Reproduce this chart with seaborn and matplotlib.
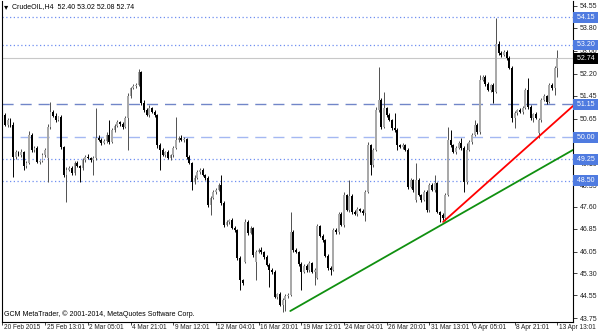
import numpy as np
import pandas as pd
import matplotlib
matplotlib.use("Agg")
import matplotlib.pyplot as plt
import matplotlib.transforms as mtransforms
import seaborn as sns

sns.set_style("white")
plt.rcParams['font.family'] = ['Liberation Sans', 'DejaVu Sans']

# ---------------- data (CrudeOIL H4) ----------------
opens = [
    51.20, 50.78, 50.44, 50.61, 50.44, 49.33, 49.50, 49.40, 49.50, 49.02,
    49.12, 50.09, 49.57, 49.64, 49.15, 49.19, 49.40, 49.29, 50.37, 50.88,
    50.75, 50.61, 50.71, 49.67, 48.71, 48.88, 48.95, 48.78, 49.12, 49.02,
    48.95, 49.22, 49.33, 49.29, 49.22, 49.29, 49.99, 49.92, 49.81, 49.88,
    50.09, 49.85, 50.26, 50.40, 50.54, 50.47, 50.37, 50.68, 51.44, 51.71,
    51.78, 51.82, 52.27, 51.20, 50.95, 50.78, 51.02, 50.88, 50.78, 49.74,
    49.57, 49.40, 49.50, 49.29, 49.40, 49.64, 49.92, 49.99, 49.92, 49.95,
    49.33, 49.12, 48.46, 48.60, 48.81, 48.88, 48.71, 48.60, 47.67, 47.91,
    48.12, 48.19, 48.36, 47.74, 46.98, 47.08, 47.15, 46.87, 46.80, 45.84,
    45.08, 45.70, 47.08, 46.70, 46.87, 45.70, 46.04, 46.11, 46.04, 45.87,
    45.60, 45.42, 45.35, 44.49, 44.59, 44.21, 44.39, 44.52, 44.56, 46.74,
    46.11, 46.04, 45.63, 45.35, 45.56, 45.42, 45.66, 45.35, 45.15, 46.94,
    46.60, 46.46, 45.91, 45.49, 45.42, 46.80, 46.74, 47.36, 46.98, 48.01,
    47.50, 47.98, 47.43, 47.36, 47.53, 47.46, 47.39, 48.12, 49.74, 49.05,
    49.57, 50.95, 51.30, 50.37, 51.02, 50.78, 50.61, 50.33, 50.26, 49.74,
    49.67, 49.74, 49.57, 48.29, 48.53, 47.84, 48.53, 48.01, 47.84, 48.12,
    47.50, 48.36, 48.19, 48.42, 47.43, 47.32, 47.22, 48.01, 49.92, 49.74,
    49.50, 49.64, 49.81, 49.64, 48.46, 49.57, 49.85, 50.09, 50.44, 50.19,
    51.99, 52.10, 51.85, 51.65, 51.82, 51.58, 53.24, 52.92, 52.86, 52.96,
    52.75, 52.41, 50.68, 50.85, 50.95, 50.88, 51.02, 51.65, 51.06, 50.68,
    50.82, 50.16, 50.61, 51.30, 51.44, 51.23, 51.82, 51.71, 52.40,
]
closes = [
    50.78, 50.44, 50.61, 50.44, 49.33, 49.50, 49.40, 49.50, 49.02, 49.12,
    50.09, 49.57, 49.64, 49.15, 49.19, 49.40, 49.57, 50.37, 50.88, 50.75,
    50.61, 50.71, 49.67, 48.71, 48.88, 48.95, 48.78, 49.12, 49.02, 48.95,
    49.22, 49.33, 49.29, 49.22, 49.29, 49.99, 49.92, 49.81, 49.88, 50.09,
    49.85, 50.26, 50.40, 50.54, 50.47, 50.37, 50.68, 51.44, 51.71, 51.78,
    51.82, 52.27, 51.20, 50.95, 50.78, 51.02, 50.88, 50.78, 49.74, 49.57,
    49.40, 49.50, 49.29, 49.40, 49.64, 49.92, 49.99, 49.92, 49.95, 49.33,
    49.12, 48.46, 48.60, 48.81, 48.88, 48.71, 48.60, 47.67, 47.91, 48.12,
    48.19, 48.36, 47.74, 46.98, 47.08, 47.15, 46.87, 46.80, 45.84, 45.08,
    44.97, 47.08, 46.70, 46.87, 45.94, 46.04, 46.11, 46.04, 45.87, 45.60,
    45.42, 45.35, 44.49, 44.59, 44.21, 44.39, 44.52, 44.56, 46.74, 46.11,
    46.04, 45.63, 45.35, 45.56, 45.42, 45.66, 45.35, 45.42, 46.94, 46.60,
    46.46, 45.91, 45.49, 45.42, 46.80, 46.74, 47.36, 46.98, 48.01, 47.50,
    47.98, 47.43, 47.36, 47.53, 47.46, 47.39, 48.12, 49.74, 49.05, 49.57,
    50.95, 51.30, 50.37, 51.02, 50.78, 50.61, 50.33, 50.26, 49.74, 49.67,
    49.74, 49.57, 48.29, 48.53, 48.19, 48.53, 48.01, 47.84, 48.12, 47.50,
    48.36, 48.19, 48.42, 47.43, 47.32, 47.22, 48.01, 49.92, 49.74, 49.50,
    49.64, 49.81, 49.64, 48.46, 49.57, 49.85, 50.09, 50.44, 50.19, 51.99,
    52.10, 51.85, 51.65, 51.82, 51.58, 53.24, 52.92, 52.86, 52.96, 52.75,
    52.41, 50.68, 50.85, 50.95, 50.88, 51.02, 51.65, 51.06, 50.68, 50.82,
    50.68, 50.61, 51.30, 51.44, 51.23, 51.82, 51.71, 52.41, 52.74,
]
upper_wick = [
    0.13, 0.06, 0.08, 0.05, 0.10, 0.07, 0.04, 0.09, 0.05, 0.06,
    0.15, 0.05, 0.08, 0.06, 0.04, 0.07, 0.05, 0.10, 0.35, 0.06,
    0.08, 0.05, 0.07, 0.04, 0.09, 0.06, 0.05, 0.08, 0.06, 0.04,
    0.07, 0.05, 0.09, 0.04, 0.06, 1.03, 0.08, 0.05, 0.07, 0.10,
    0.52, 0.06, 0.05, 0.08, 0.04, 0.07, 0.06, 0.09, 0.05, 0.07,
    0.06, 0.10, 0.04, 0.08, 0.06, 0.09, 0.05, 0.07, 0.04, 0.06,
    0.08, 0.05, 0.07, 0.04, 0.06, 0.79, 0.05, 0.08, 0.06, 0.04,
    0.07, 0.05, 0.09, 0.06, 0.05, 0.08, 0.04, 0.06, 0.07, 0.05,
    0.08, 0.06, 0.35, 0.05, 0.07, 0.04, 0.08, 0.06, 0.05, 0.07,
    0.04, 0.11, 0.06, 0.08, 0.05, 0.07, 0.06, 0.09, 0.04, 0.06,
    0.05, 0.08, 0.06, 0.04, 0.07, 0.05, 0.06, 0.08, 0.69, 0.05,
    0.07, 0.04, 0.06, 0.08, 0.05, 0.07, 0.04, 0.06, 0.08, 0.05,
    0.06, 0.04, 0.07, 0.05, 0.08, 0.06, 0.05, 0.07, 0.10, 0.04,
    0.55, 0.06, 0.05, 0.08, 0.04, 0.06, 0.07, 0.09, 0.05, 0.08,
    0.10, 1.14, 0.06, 0.56, 0.05, 0.07, 0.04, 0.50, 0.06, 0.05,
    0.07, 0.04, 0.06, 0.08, 0.05, 0.59, 0.06, 0.04, 0.07, 0.05,
    0.08, 0.06, 0.29, 0.05, 0.04, 0.06, 0.07, 0.45, 0.34, 0.05,
    0.06, 0.08, 0.18, 0.05, 0.24, 0.07, 0.06, 0.17, 0.05, 0.17,
    0.06, 0.05, 0.08, 0.04, 0.07, 0.90, 0.10, 0.06, 0.05, 0.07,
    0.06, 0.05, 0.07, 0.04, 0.06, 0.08, 0.05, 0.41, 0.06, 0.04,
    0.07, 0.05, 0.08, 0.06, 0.04, 0.07, 0.05, 0.06, 0.28,
]
lower_wick = [
    0.10, 0.05, 0.07, 0.06, 0.69, 0.08, 0.05, 0.07, 0.14, 0.06,
    0.05, 0.08, 0.06, 0.04, 0.07, 0.05, 0.09, 0.83, 0.06, 0.05,
    0.07, 0.04, 0.06, 0.08, 0.94, 0.05, 0.07, 0.06, 0.04, 0.49,
    0.06, 0.08, 0.05, 0.07, 0.51, 0.06, 0.04, 0.08, 0.05, 0.06,
    0.07, 0.05, 0.08, 0.04, 0.06, 0.07, 0.05, 1.11, 0.06, 0.04,
    0.08, 0.05, 0.07, 0.06, 0.04, 0.08, 0.05, 0.06, 0.09, 0.69,
    0.05, 0.07, 0.04, 0.08, 0.06, 0.05, 0.07, 0.04, 0.06, 0.08,
    0.05, 0.27, 0.06, 0.04, 0.07, 0.05, 0.08, 0.06, 0.35, 0.05,
    0.07, 0.04, 0.06, 0.08, 0.05, 0.07, 0.04, 0.06, 0.08, 0.36,
    0.06, 0.05, 0.07, 0.04, 0.08, 0.62, 0.05, 0.07, 0.06, 0.04,
    0.59, 0.06, 0.05, 0.08, 0.04, 0.24, 0.39, 0.07, 0.05, 0.06,
    0.04, 0.07, 0.63, 0.05, 0.06, 0.08, 0.04, 0.45, 0.06, 0.05,
    0.07, 0.04, 0.06, 0.17, 0.05, 0.08, 0.06, 0.04, 0.07, 0.05,
    0.06, 0.08, 0.04, 0.07, 0.05, 0.06, 0.27, 0.05, 0.34, 0.07,
    0.05, 0.06, 0.08, 0.04, 0.07, 0.05, 0.06, 0.08, 0.17, 0.05,
    0.06, 0.04, 0.07, 0.05, 0.08, 0.06, 0.04, 0.07, 0.05, 0.06,
    0.08, 0.05, 0.07, 0.04, 0.24, 0.06, 0.10, 0.05, 0.07, 0.04,
    0.06, 0.05, 0.08, 0.34, 0.06, 0.04, 0.07, 0.05, 0.06, 0.08,
    0.05, 0.07, 0.04, 0.06, 0.38, 0.05, 0.07, 0.06, 0.04, 0.08,
    0.05, 0.14, 0.35, 0.06, 0.04, 0.07, 0.05, 0.08, 0.06, 0.14,
    0.05, 0.17, 0.07, 0.04, 0.06, 0.05, 0.08, 0.24, 0.32,
]

x_tick_bars = [0, 16, 32, 48, 64, 80, 96, 112, 128, 144, 160, 176, 192, 208]
x_tick_labels = ["20 Feb 2015", "25 Feb 13:01", "2 Mar 05:01", "4 Mar 21:01",
                 "9 Mar 12:01", "12 Mar 04:01", "16 Mar 20:01", "19 Mar 12:01",
                 "24 Mar 04:01", "26 Mar 20:01", "31 Mar 13:01", "6 Apr 05:01",
                 "8 Apr 21:01", "13 Apr 13:01"]
y_ticks = [54.55, 53.80, 53.00, 52.20, 51.45, 50.65, 49.90, 49.10, 48.35,
           47.60, 46.85, 46.05, 45.30, 44.55, 43.75]

dotted_levels = [54.15, 53.20, 49.25, 48.50]
dashed_levels = [51.15, 50.00]
current_price = 52.74

red_trend_bars = [165.2, 213.9]
red_trend_prices = [47.08, 51.09]
green_trend_bars = [107.9, 213.9]
green_trend_prices = [44.00, 49.57]

title_text = "CrudeOIL,H4  52.40 53.02 52.08 52.74"
copyright_text = "GCM MetaTrader, \u00a9 2001-2014, MetaQuotes Software Corp."

# ---------------- build frame ----------------
df = pd.DataFrame({"bar": np.arange(len(closes)), "open": opens, "close": closes,
                   "uw": upper_wick, "lw": lower_wick})
df["top"] = df[["open", "close"]].max(axis=1)
df["bot"] = df[["open", "close"]].min(axis=1)
df["high"] = df["top"] + df["uw"]
df["low"] = df["bot"] - df["lw"]
df["bull"] = df["close"] >= df["open"]

W, H = 600, 333
fig = plt.figure(figsize=(W / 100, H / 100), dpi=100)
ax_l, ax_r, ax_t, ax_b = 1.5, 573, 1, 322
ax = fig.add_axes([ax_l / W, 1 - ax_b / H, (ax_r - ax_l) / W, (ax_b - ax_t) / H])

BULL = "#a9a9a9"
BEAR = "#000000"
FS = 5.0
FSX = 4.7

# horizontal levels
for lv in dotted_levels:
    ax.axhline(lv, color="#6f8ff0", lw=0.9, ls=(0, (1, 2)), zorder=1)
ax.axhline(dashed_levels[0], color="#7186c8", lw=1.0, ls=(0, (8, 5)), zorder=1)
ax.axhline(dashed_levels[1], color="#a4b8f2", lw=1.0, ls=(0, (8, 5)), zorder=1)
ax.axhline(current_price, color="#c8c8c8", lw=0.8, zorder=1)

# candles
bull = df[df.bull]
bear = df[~df.bull]
ax.vlines(bull.bar, bull.low, bull.high, color="#505050", lw=0.7, zorder=2)
ax.vlines(bear.bar, bear.low, bear.high, color="#000000", lw=0.7, zorder=2)
min_h = 0.035
ax.bar(bull.bar, np.maximum(bull.top - bull.bot, min_h), bottom=bull.bot,
       width=0.72, color=BULL, linewidth=0, zorder=3)
ax.bar(bear.bar, np.maximum(bear.top - bear.bot, min_h), bottom=bear.bot,
       width=0.72, color=BEAR, linewidth=0, zorder=3)

# trend lines
tr = pd.DataFrame({"bar": red_trend_bars + green_trend_bars,
                   "price": red_trend_prices + green_trend_prices,
                   "line": ["red"] * 2 + ["green"] * 2})
sns.lineplot(data=tr, x="bar", y="price", hue="line",
             palette={"red": "#ff0000", "green": "#109010"},
             lw=1.3, legend=False, ax=ax, zorder=4, estimator=None, sort=False)

# axes limits
ax.set_xlim(-0.37, 213.9)
ax.set_ylim(43.62, 54.72)
ax.set_xlabel("")
ax.set_ylabel("")

# y axis on right
ax.yaxis.tick_right()
ax.set_yticks(y_ticks)
ax.set_yticklabels([f"{v:.2f}" for v in y_ticks])
ax.tick_params(axis="y", which="both", right=True, left=False, length=3, width=0.6,
               labelsize=FS, pad=2, colors="#222222")
ax.set_xticks(x_tick_bars)
ax.set_xticklabels(x_tick_labels)
ax.tick_params(axis="x", which="both", bottom=True, length=2.5, width=0.6,
               labelsize=FSX, pad=0, colors="#222222")
offset = mtransforms.ScaledTranslation(1.5 / 100, 1.5 / 100, fig.dpi_scale_trans)
for lab in ax.get_xticklabels():
    lab.set_horizontalalignment("left")
    lab.set_transform(lab.get_transform() + offset)

for s in ["left", "bottom", "right"]:
    ax.spines[s].set_color("#000000")
    ax.spines[s].set_linewidth(0.8)
ax.spines["top"].set_visible(False)

# price boxes on the right axis
trans = mtransforms.blended_transform_factory(ax.transAxes, ax.transData)
for lv in dotted_levels + dashed_levels:
    ax.text(1.003, lv, f" {lv:.2f} ", transform=trans, fontsize=FS, color="white",
            va="center", ha="left", zorder=10, clip_on=False,
            bbox=dict(boxstyle="square,pad=0.28", facecolor="#4f7be0", edgecolor="none"))
ax.text(1.003, current_price, f" {current_price:.2f} ", transform=trans, fontsize=FS,
        color="white", va="center", ha="left", zorder=10, clip_on=False,
        bbox=dict(boxstyle="square,pad=0.28", facecolor="#000000", edgecolor="none"))

# titles
fig.text(4 / W, 1 - 6.5 / H, "\u25BE", fontsize=6, va="center", ha="left", color="#000000",
         family="DejaVu Sans")
fig.text(12 / W, 1 - 6.5 / H, title_text, fontsize=FS, va="center", ha="left", color="#000000")
fig.text(4 / W, 1 - 314 / H, copyright_text, fontsize=FS, va="center", ha="left", color="#000000")

fig.savefig("out.png", dpi=100)
